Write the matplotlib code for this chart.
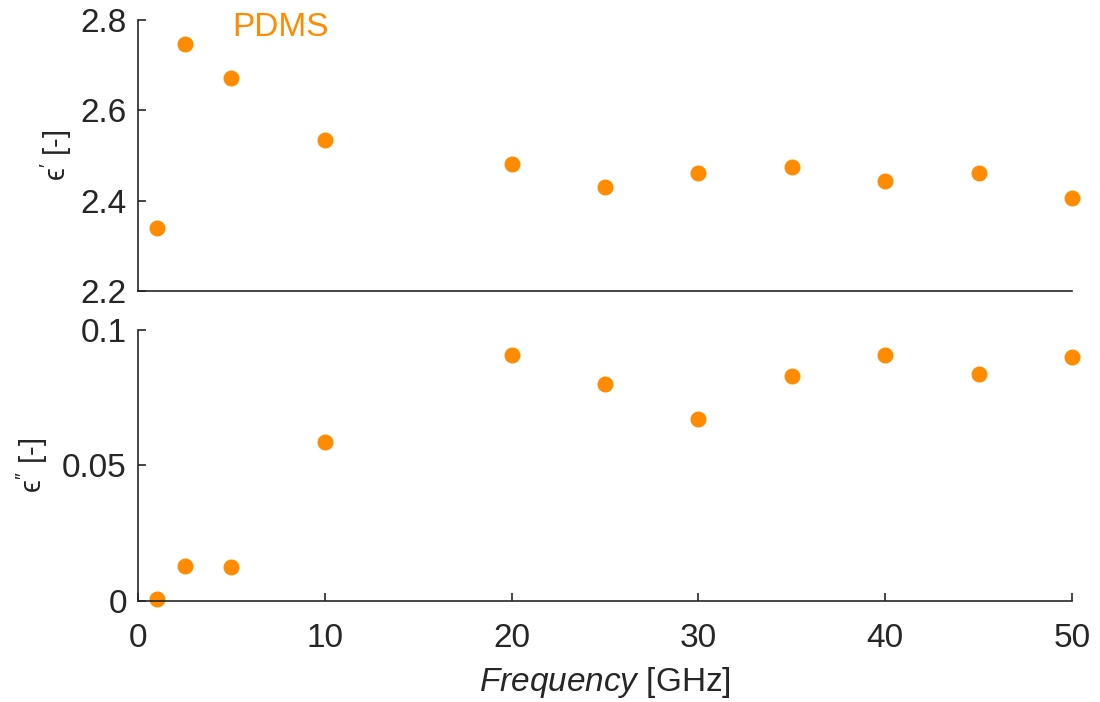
import numpy as np
import matplotlib.pyplot as plt

plt.rcParams['font.family'] = ['Liberation Sans', 'DejaVu Sans']
plt.rcParams['mathtext.fontset'] = 'custom'
plt.rcParams['mathtext.rm'] = 'Liberation Sans'
plt.rcParams['mathtext.it'] = 'Liberation Sans:italic'

freq = [1, 2.5, 5, 10, 20, 25, 30, 35, 40, 45, 50]
eps_real = [2.339, 2.747, 2.672, 2.534, 2.481, 2.430, 2.461, 2.474, 2.443, 2.461, 2.406]
eps_imag = [0.0007, 0.0129, 0.0125, 0.0587, 0.0908, 0.0801, 0.0672, 0.0830, 0.0908, 0.0838, 0.0900]

orange = '#FF8C00'
ink = '#262626'

fig = plt.figure(figsize=(11, 7.02), dpi=100)
ax1 = fig.add_axes([0.1255, 0.5855, 0.849, 0.386])
ax2 = fig.add_axes([0.1255, 0.1439, 0.849, 0.386])

ax1.plot(freq, eps_real, 'o', color=orange, ms=10.5, clip_on=False)
ax2.plot(freq, eps_imag, 'o', color=orange, ms=10.5, clip_on=False)

for ax in (ax1, ax2):
    ax.set_xlim(0, 50)
    for s in ('top', 'right'):
        ax.spines[s].set_visible(False)
    for s in ('left', 'bottom'):
        ax.spines[s].set_color(ink)
        ax.spines[s].set_linewidth(1.2)
    ax.tick_params(direction='in', length=6, width=1.2, colors=ink,
                   labelsize=24, labelcolor=ink)
    ax.tick_params(axis='y', pad=8)
    ax.tick_params(axis='x', pad=16)

ax1.set_ylim(2.2, 2.8)
ax1.set_yticks([2.2, 2.4, 2.6, 2.8])
ax1.set_yticklabels(['2.2', '2.4', '2.6', '2.8'])
ax1.tick_params(axis='x', bottom=False, labelbottom=False)
ax1.set_ylabel("$\\mathregular{\u03f5}^{\\prime}$ [-]", fontsize=21, color=ink, labelpad=5)
ax1.text(0.101, 1.03, 'PDMS', transform=ax1.transAxes, color=orange,
         fontsize=24, ha='left', va='top')

ax2.set_ylim(0, 0.1)
ax2.set_yticks([0, 0.05, 0.1])
ax2.set_yticklabels(['0', '0.05', '0.1'])
ax2.set_xticks([0, 10, 20, 30, 40, 50])
ax2.set_ylabel("$\\mathregular{\u03f5}^{\\prime\\prime}$ [-]", fontsize=21, color=ink, labelpad=9)
ax2.set_xlabel(r"$\it{Frequency}$ [GHz]", fontsize=24, color=ink, labelpad=8)

fig.savefig('out.png', dpi=100)
